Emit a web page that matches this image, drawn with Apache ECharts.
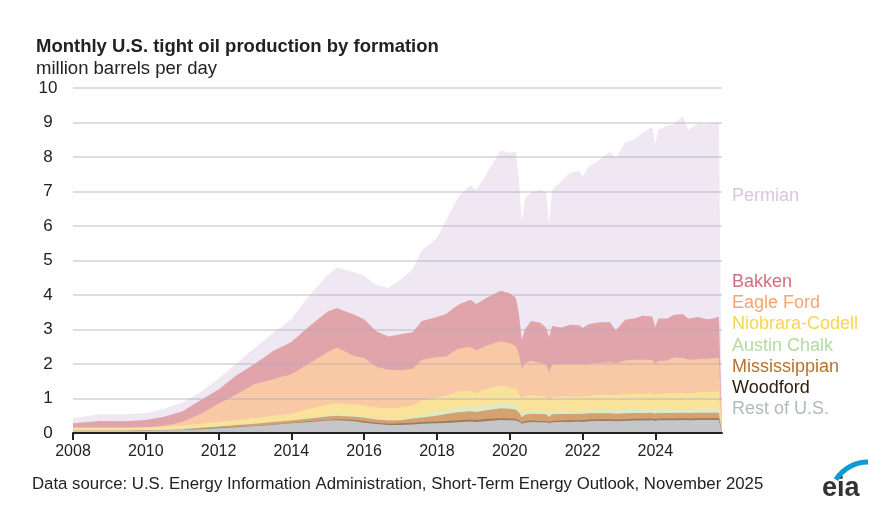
<!DOCTYPE html>
<html>
<head>
<meta charset="utf-8">
<script src="https://cdn.jsdelivr.net/npm/echarts@6/dist/echarts.min.js"></script>
<style>
html,body{margin:0;padding:0;background:#fff;}
#chart{width:889px;height:531px;}
</style>
</head>
<body>
<div id="chart"></div>
<script>
const dates = ['2008-01','2008-10','2009-06','2010-01','2010-07','2011-01','2011-07','2012-01','2012-07','2013-01',
'2013-07','2014-01','2014-07','2015-01','2015-04','2015-10','2016-01','2016-05','2016-09','2017-01',
'2017-05','2017-08','2018-01','2018-04','2018-08','2018-12','2019-02','2019-06','2019-10','2020-01',
'2020-03','2020-04','2020-05','2020-06','2020-08','2020-11','2021-01','2021-02','2021-03','2021-06',
'2021-09','2021-12','2022-01','2022-03','2022-06','2022-10','2022-12','2023-03','2023-06','2023-09',
'2023-12','2024-01','2024-02','2024-05','2024-07','2024-10','2024-12','2025-03','2025-06','2025-08',
'2025-10','2025-11'];

// million barrels per day, by formation
const restOfUS = [.06,.06,.06,.07,.08,.09,.11,.14,.17,.20,.24,.28,.32,.36,.37,.34,.30,.26,.23,.23,
.25,.27,.28,.29,.31,.33,.32,.35,.38,.37,.36,.33,.27,.30,.32,.31,.31,.28,.31,.32,
.32,.33,.32,.34,.35,.35,.34,.35,.36,.36,.37,.35,.37,.37,.37,.38,.37,.38,.38,.38,.38,0];
const woodford = [0,0,0,0,0,0,.01,.01,.01,.01,.01,.01,.02,.02,.03,.04,.04,.04,.04,.05,
.05,.05,.05,.06,.06,.06,.06,.06,.05,.05,.05,.05,.03,.04,.04,.04,.04,.04,.04,.04,
.05,.05,.05,.05,.05,.05,.05,.05,.05,.05,.05,.05,.05,.05,.05,.05,.05,.05,.05,.05,.05,0];
const mississippian = [.01,.01,.01,.01,.01,.02,.03,.04,.05,.06,.07,.07,.08,.10,.10,.09,.10,.09,.09,.09,
.12,.13,.17,.20,.23,.24,.23,.26,.29,.28,.27,.22,.16,.19,.20,.20,.19,.15,.19,.19,
.18,.18,.18,.18,.17,.17,.17,.17,.17,.17,.17,.16,.16,.16,.16,.16,.16,.16,.16,.16,.16,0];
const austinChalk = [.01,.01,.01,.01,.01,.01,.01,.01,.01,.01,.01,.02,.02,.03,.04,.03,.03,.04,.04,.04,
.05,.07,.10,.10,.12,.13,.13,.13,.12,.12,.12,.10,.06,.07,.07,.07,.07,.07,.08,.08,
.08,.08,.08,.08,.09,.10,.10,.10,.10,.11,.11,.11,.11,.11,.11,.11,.11,.11,.11,.11,.11,0];
const niobraraCodell = [.07,.07,.07,.07,.08,.10,.11,.12,.14,.15,.17,.17,.26,.32,.32,.33,.32,.31,.32,.33,
.33,.42,.43,.42,.48,.46,.42,.50,.54,.50,.48,.45,.46,.48,.47,.45,.43,.40,.42,.42,
.43,.42,.42,.43,.44,.44,.43,.45,.45,.45,.45,.43,.45,.46,.47,.47,.46,.48,.49,.49,.50,0];
const eagleFord = [0,0,0,.01,.03,.10,.28,.53,.74,.99,1.06,1.15,1.32,1.52,1.62,1.39,1.39,1.18,1.11,1.08,
1.06,1.18,1.17,1.15,1.24,1.28,1.24,1.25,1.28,1.28,1.24,1.15,.88,.94,1.00,.96,.96,.82,.95,.95,
.94,.94,.93,.93,.93,.94,.93,.98,.99,.98,.97,.90,.95,.95,1.02,1.01,.97,.96,.96,.97,.98,0];
const bakken = [.13,.20,.19,.21,.26,.30,.40,.41,.56,.59,.82,.94,1.08,1.17,1.14,1.20,1.12,1.03,.97,1.04,
1.06,1.13,1.16,1.23,1.28,1.36,1.34,1.40,1.46,1.45,1.40,1.18,.84,.98,1.15,1.17,1.05,1.02,1.11,1.06,
1.14,1.12,1.06,1.14,1.17,1.17,.96,1.18,1.20,1.28,1.26,1.07,1.23,1.22,1.24,1.27,1.19,1.22,1.15,1.16,1.20,0];
const permian = [.14,.20,.20,.20,.23,.26,.23,.32,.34,.46,.52,.66,.90,1.06,1.18,1.23,1.25,1.35,1.40,1.59,
1.83,2.05,2.29,2.70,3.13,3.32,3.31,3.65,4.08,4.07,4.23,3.92,3.40,3.80,3.72,3.85,3.92,3.27,3.95,4.24,
4.41,4.48,4.38,4.57,4.68,4.93,5.00,5.14,5.18,5.32,5.50,5.30,5.48,5.58,5.53,5.73,5.47,5.61,5.65,5.65,5.62,0];

const xTicks = [2008,2010,2012,2014,2016,2018,2020,2022,2024];

// bottom-to-top stacking order
const formations = [
  {name:'Rest of U.S.', data:restOfUS, area:'#c4c6c9', label:'#b3b8bf'},
  {name:'Woodford', data:woodford, area:'#9c7c63', label:'#2e2010'},
  {name:'Mississippian', data:mississippian, area:'#d5a16f', label:'#b9712b'},
  {name:'Austin Chalk', data:austinChalk, area:'#d9ebca', label:'#b4db9e'},
  {name:'Niobrara-Codell', data:niobraraCodell, area:'#f9e39b', label:'#fbd44e'},
  {name:'Eagle Ford', data:eagleFord, area:'#f9c9a5', label:'#f6a471'},
  {name:'Bakken', data:bakken, area:'#e1a4ab', label:'#d36e7d'},
  {name:'Permian', data:permian, area:'#efe8f3', label:'#dcc4e3'}
];
const labelY = {'Permian':196,'Bakken':282,'Eagle Ford':303,'Niobrara-Codell':324,'Austin Chalk':346,
  'Mississippian':367,'Woodford':388,'Rest of U.S.':409};

const xVals = dates.map(d => { const [y,m] = d.split('-').map(Number); return y + (m-1)/12; });

// running totals (stack tops), each drawn as an area from zero; higher layers painted first
const running = dates.map(() => 0);
const stackTops = formations.map(f => f.data.map((v,i) => (running[i] = +(running[i] + v).toFixed(4))));

const chart = echarts.init(document.getElementById('chart'), null, {renderer:'canvas'});
const FONT = '"Liberation Sans", Arial, sans-serif';

const series = formations.map((f,k) => ({
  name: f.name, type:'line', symbol:'none', silent:true, z: 2,
  lineStyle:{width:0}, areaStyle:{color:f.area, opacity:1, origin:'start'},
  data: stackTops[k].map((v,i) => [xVals[i], v])
})).reverse();

const graphics = [
  {type:'text', left:36, top:37, style:{text:'Monthly U.S. tight oil production by formation', font:'bold 18.5px '+FONT, fill:'#222'}},
  {type:'text', left:36, top:59, style:{text:'million barrels per day', font:'18.5px '+FONT, fill:'#222'}},
  {type:'text', left:32, top:476, style:{text:'Data source: U.S. Energy Information Administration, Short-Term Energy Outlook, November 2025', font:'16.8px '+FONT, fill:'#222'}},
  {type:'text', left:822, top:475, style:{text:'eia', font:'bold 27px '+FONT, fill:'#333'}},
  {type:'arc', shape:{cx:868, cy:500, r:38, startAngle:Math.PI*1.18, endAngle:Math.PI*1.5}, style:{stroke:'#0a9ad6', lineWidth:5, fill:null}}
];
formations.forEach(f => {
  graphics.push({type:'text', x:732, y:labelY[f.name], style:{text:f.name, font:'18px '+FONT, fill:f.label, verticalAlign:'middle'}});
});

chart.setOption({
  backgroundColor:'#ffffff',
  animation:false,
  grid:{left:73, right:167, top:88, bottom:98, containLabel:false},
  xAxis:{type:'value', min:2008, max:xVals[xVals.length-1], z:11,
    splitLine:{show:false},
    axisLine:{show:true, lineStyle:{color:'#222', width:2}},
    axisTick:{show:true, customValues:xTicks, length:7, lineStyle:{color:'#222', width:2}},
    axisLabel:{customValues:xTicks, fontSize:16, fontFamily:FONT, color:'#222', margin:11, formatter:v=>String(Math.round(v))}
  },
  yAxis:{type:'value', min:0, max:10, interval:1, z:10,
    axisLine:{show:false}, axisTick:{show:false},
    axisLabel:{fontSize:17, fontFamily:FONT, color:'#222', align:'center', margin:25},
    splitLine:{show:true, lineStyle:{color:'rgba(175,175,185,0.42)', width:2}}
  },
  series: series,
  graphic: graphics
});
</script>
</body>
</html>
